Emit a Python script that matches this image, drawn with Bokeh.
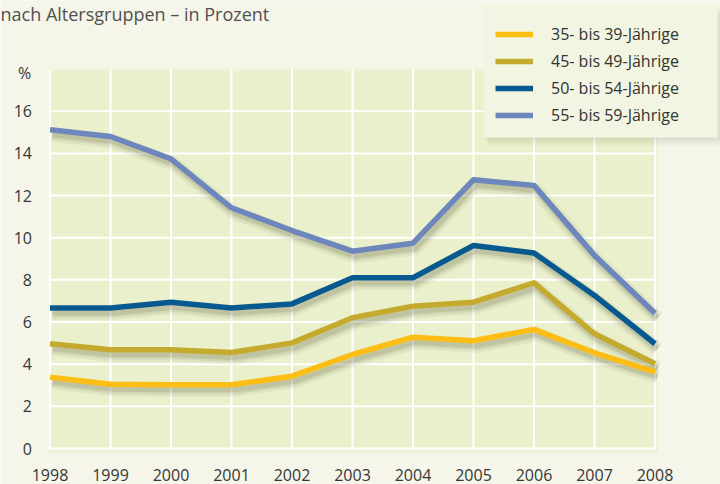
from bokeh.plotting import figure
from bokeh.models import Range1d, FixedTicker, Label, BoxAnnotation, Legend, LegendItem
from bokeh.embed import file_html
from bokeh.resources import INLINE

years = [1998, 1999, 2000, 2001, 2002, 2003, 2004, 2005, 2006, 2007, 2008]
y_ticks = [0, 2, 4, 6, 8, 10, 12, 14, 16]
y_top = 18
s35_39 = [3.38, 3.05, 3.02, 3.02, 3.43, 4.46, 5.28, 5.11, 5.65, 4.54, 3.64]
s45_49 = [4.97, 4.68, 4.68, 4.55, 5.01, 6.20, 6.75, 6.94, 7.86, 5.44, 4.02]
s50_54 = [6.67, 6.67, 6.94, 6.67, 6.86, 8.10, 8.10, 9.63, 9.27, 7.26, 4.97]
s55_59 = [15.12, 14.80, 13.74, 11.42, 10.34, 9.36, 9.74, 12.75, 12.48, 9.16, 6.42]
series_labels = ["35- bis 39-Jährige", "45- bis 49-Jährige", "50- bis 54-Jährige", "55- bis 59-Jährige"]
series_colors = ["#fcbd14", "#c4ab30", "#08598f", "#6d87bd"]
title_text = "nach Altersgruppen \u2013 in Prozent"
unit_text = "%"

FONT = "Open Sans"
BG = "#f5f6e9"
W, H = 720, 484

# pixel layout of the plotting area inside the canvas
X0_PX, PX_PER_YEAR = 49.5, 60.5
Y0_PX, PX_PER_UNIT = 448.0, 21.08

x_start = years[0] - X0_PX / PX_PER_YEAR
x_end = years[0] + (W - X0_PX) / PX_PER_YEAR
y_start = -(H - Y0_PX) / PX_PER_UNIT
y_end = Y0_PX / PX_PER_UNIT

p = figure(width=W, height=H, output_backend="svg", toolbar_location=None,
           x_range=Range1d(x_start, x_end), y_range=Range1d(y_start, y_end),
           min_border=0, min_border_left=0, min_border_right=0,
           min_border_top=0, min_border_bottom=0)
p.background_fill_color = BG
p.border_fill_color = BG
p.outline_line_color = None
p.grid.visible = False

# plotting area: light rim + inner fill
rim_l, rim_r = years[0] - 1.2 / PX_PER_YEAR, years[-1] + 3.2 / PX_PER_YEAR
rim_b, rim_t = -4.0 / PX_PER_UNIT, y_top + 0.3 / PX_PER_UNIT
p.add_layout(BoxAnnotation(left=rim_l, right=rim_r, bottom=rim_b, top=rim_t,
                           fill_color="#eef3d7", fill_alpha=1, line_color=None, level="underlay"))
ins_x, ins_y = 2.2 / PX_PER_YEAR, 2.4 / PX_PER_UNIT
p.add_layout(BoxAnnotation(left=rim_l + ins_x, right=rim_r - ins_x, bottom=rim_b + ins_y, top=rim_t - ins_y,
                           fill_color="#eaf0cb", fill_alpha=1, line_color=None, level="underlay"))

# white grid lines limited to the plotting area
p.segment(x0=years, y0=[0] * len(years), x1=years, y1=[y_top] * len(years),
          line_color="white", line_width=2)
p.segment(x0=[years[0]] * len(y_ticks), y0=y_ticks, x1=[years[-1]] * len(y_ticks), y1=y_ticks,
          line_color="white", line_width=2)

p.xaxis.ticker = FixedTicker(ticks=years)
p.yaxis.ticker = FixedTicker(ticks=y_ticks)
p.xaxis.fixed_location = 0
p.yaxis.fixed_location = years[0]
for ax in (p.xaxis[0], p.yaxis[0]):
    ax.axis_line_color = None
    ax.major_tick_line_color = None
    ax.minor_tick_line_color = None
    ax.major_tick_out = 0
    ax.major_tick_in = 0
    ax.major_label_text_font = FONT
    ax.major_label_text_font_size = "16px"
    ax.major_label_text_color = "#363636"
p.xaxis.major_label_standoff = 20
p.yaxis.major_label_standoff = 18

all_series = [s35_39, s45_49, s50_54, s55_59]

# soft drop shadows under the lines
sdx, sdy = 2.5 / PX_PER_YEAR, 5.0 / PX_PER_UNIT
for vals in all_series:
    sx = [x + sdx for x in years]
    sy = [v - sdy for v in vals]
    p.line(sx, sy, line_color="#55553a", line_alpha=0.07, line_width=14, line_join="round")
    p.line(sx, sy, line_color="#55553a", line_alpha=0.10, line_width=9, line_join="round")
    p.line(sx, sy, line_color="#55553a", line_alpha=0.14, line_width=5, line_join="round")

renderers = []
for vals, col in zip(all_series, series_colors):
    r = p.line(years, vals, line_color=col, line_width=5.5, line_join="round")
    renderers.append(r)

# legend box with shadow (screen units)
box_l, box_r, box_b, box_t = 483, 717, H - 137, H - 5
for dx, dy, a in [(5, -8, 0.04), (4, -6, 0.05), (3, -3, 0.06)]:
    p.add_layout(BoxAnnotation(left=box_l + dx, right=box_r + dx, bottom=box_b + dy, top=box_t + dy,
                               left_units="screen", right_units="screen",
                               bottom_units="screen", top_units="screen",
                               fill_color="#5a5a40", fill_alpha=a, line_color=None))
p.add_layout(BoxAnnotation(left=box_l, right=box_r, bottom=box_b, top=box_t,
                           left_units="screen", right_units="screen",
                           bottom_units="screen", top_units="screen",
                           fill_color="#f2f5e1", fill_alpha=1.0, line_color=None))

legend = Legend(items=[LegendItem(label=l, renderers=[r]) for l, r in zip(series_labels, renderers)],
                location=(495, H - 126), margin=0, padding=0, spacing=5,
                glyph_width=38, glyph_height=20, label_height=20, label_standoff=18,
                label_text_font=FONT, label_text_font_size="16px", label_text_color="#333333",
                background_fill_alpha=0, border_line_color=None)
p.add_layout(legend, "center")

p.add_layout(Label(x=24, y=H - 72, x_units="screen", y_units="screen", text=unit_text,
                   text_font=FONT, text_font_size="16px", text_color="#363636",
                   text_align="center", text_baseline="middle"))
p.add_layout(Label(x=0, y=H - 1, x_units="screen", y_units="screen", text=title_text,
                   text_font=FONT, text_font_size="18px", text_color="#505050",
                   text_align="left", text_baseline="top"))

open("out.html", "w").write(file_html(p, INLINE))
